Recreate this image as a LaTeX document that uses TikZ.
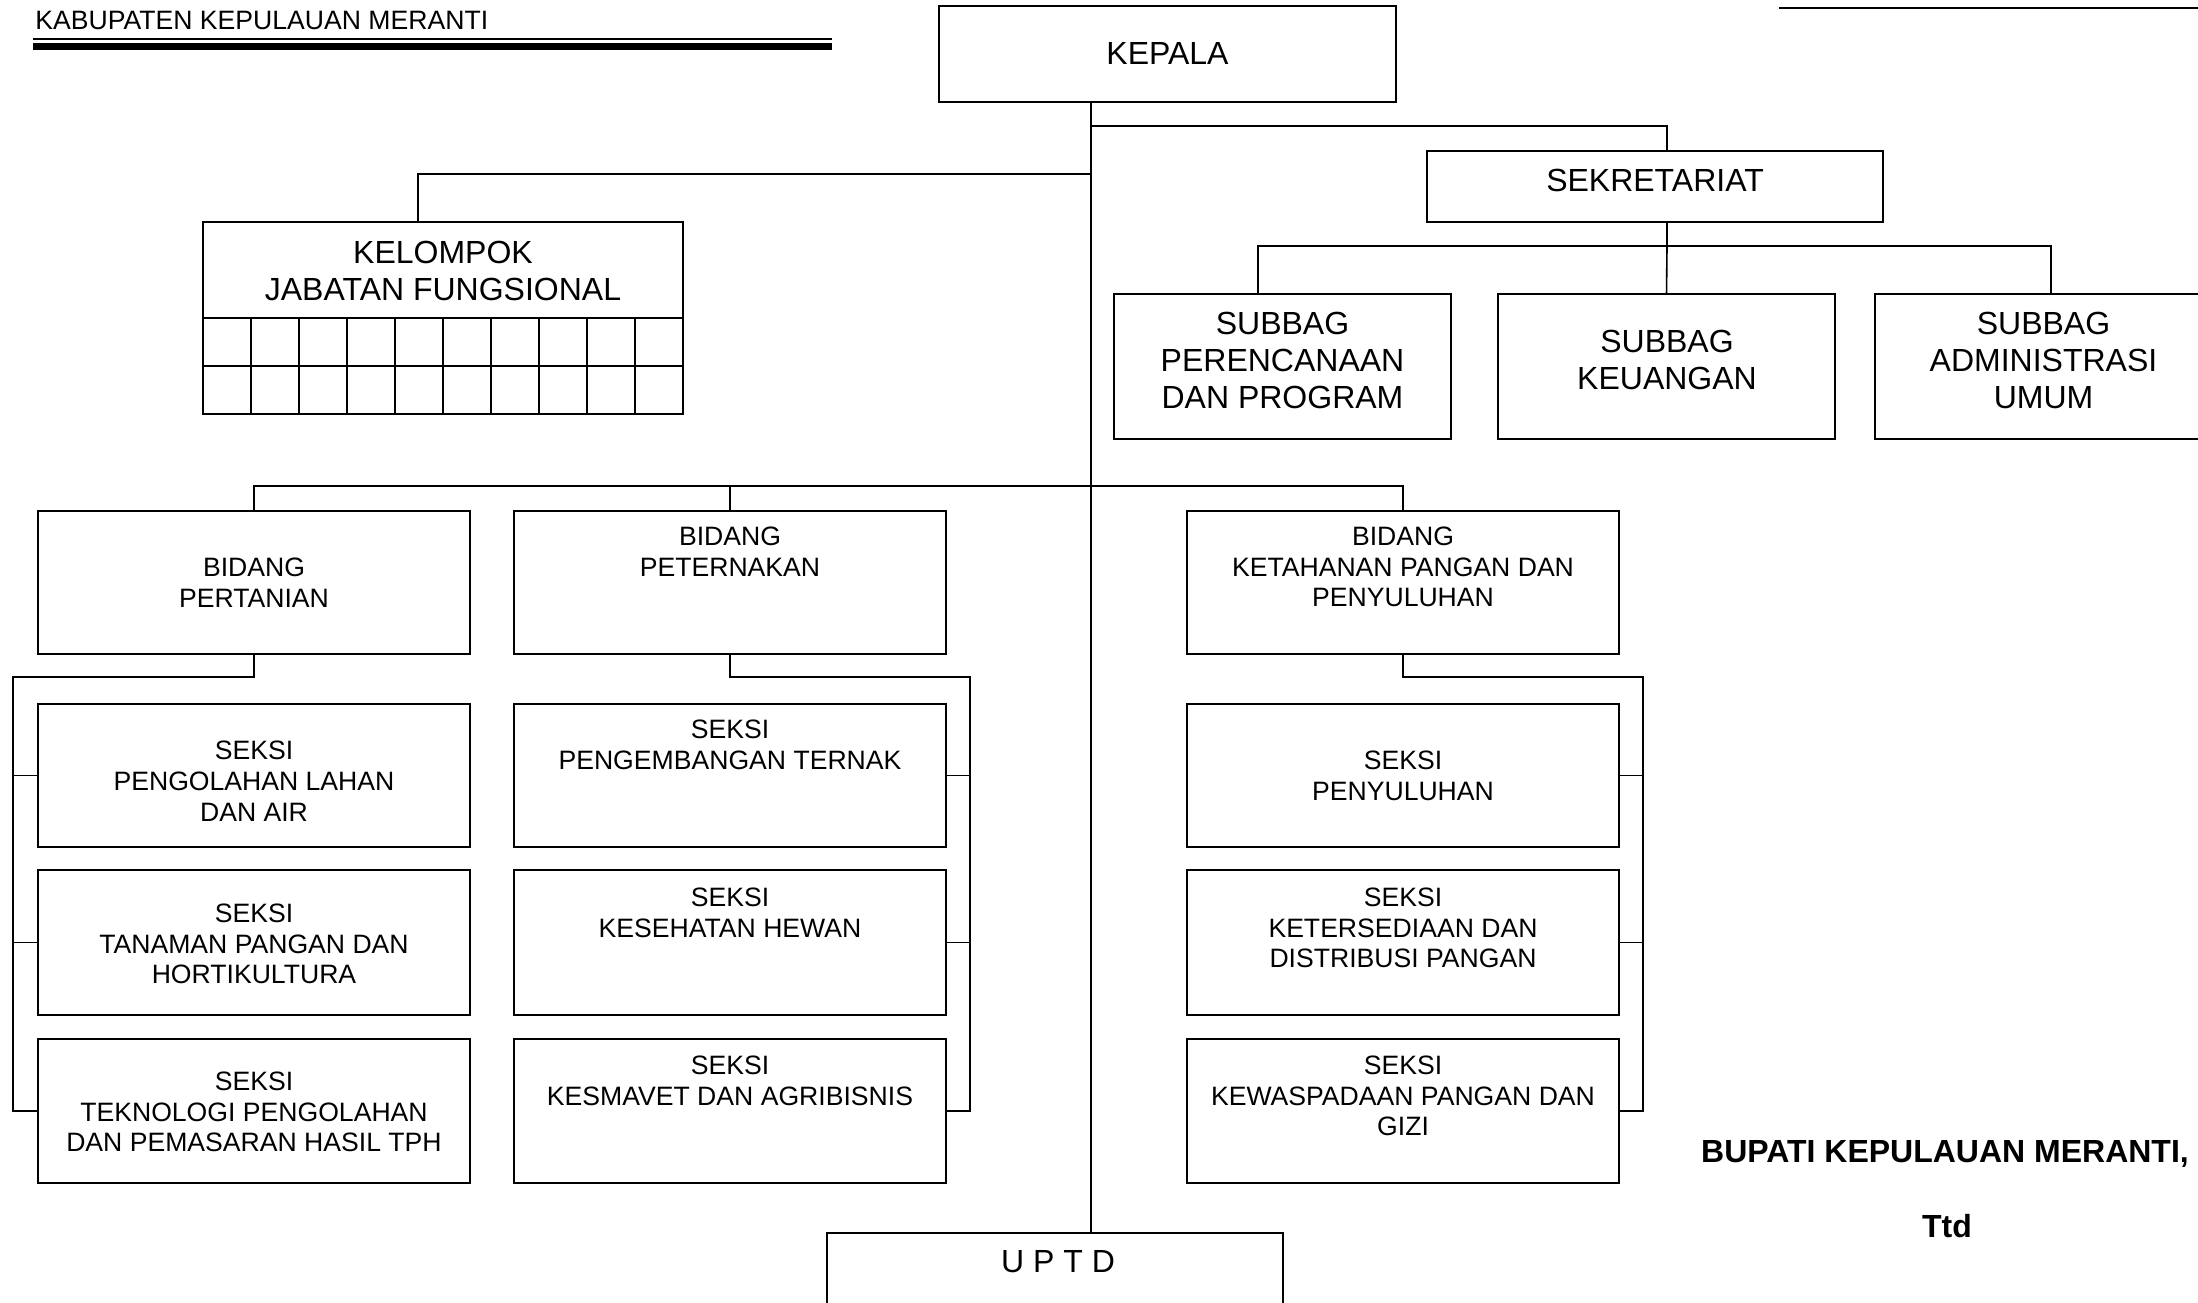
\documentclass[tikz,border=0pt]{standalone}
\usepackage{fontspec}
\setmainfont{Liberation Sans}
\usetikzlibrary{fit,calc}
\begin{document}
\begin{tikzpicture}[x=0.5pt,y=-0.5pt,
  orgbox/.style={draw, line width=0.8pt, inner sep=0pt, outer sep=0pt, rectangle},
  conn/.style={line width=0.8pt},
  bigt/.style={font=\fontsize{16}{18.5}\selectfont, align=center, inner sep=0pt},
  smallt/.style={font=\fontsize{13.3}{15.4}\selectfont, align=center, inner sep=0pt},
  boldt/.style={font=\fontsize{16}{18.5}\selectfont\bfseries, inner sep=0pt}]

\useasboundingbox (0,0) rectangle (2198,1302);
\clip (0,0) rectangle (2198,1302);

% header
\node[anchor=west, font=\fontsize{13.3}{15.4}\selectfont, inner sep=0pt] (hdr) at (35,20) {KABUPATEN KEPULAUAN MERANTI};
\draw[line width=1pt] (33,39) -- (832,39);
\draw[line width=3.6pt] (33,46.5) -- (832,46.5);
\draw[line width=1.2pt] (1779,8) -- (2198,8);

% boxes
\node[orgbox, fit={(939,6) (1396,102)}] (kepala) {};
\node[orgbox, fit={(1427,151) (1883,222)}] (sek) {};
\node[orgbox, fit={(203,222) (683,414)}] (kel) {};
\node[orgbox, fit={(1114,294) (1451,439)}] (spb) {};
\node[orgbox, fit={(1498,294) (1835,439)}] (skb) {};
\node[orgbox, fit={(1875,294) (2212,439)}] (sab) {};
\node[orgbox, fit={(38,511) (470,654)}] (bp) {};
\node[orgbox, fit={(514,511) (946,654)}] (bpt) {};
\node[orgbox, fit={(1187,511) (1619,654)}] (bk) {};
\node[orgbox, fit={(38,704) (470,847)}] (ls1) {};
\node[orgbox, fit={(38,870) (470,1015)}] (ls2) {};
\node[orgbox, fit={(38,1039) (470,1183)}] (ls3) {};
\node[orgbox, fit={(514,704) (946,847)}] (ms1) {};
\node[orgbox, fit={(514,870) (946,1015)}] (ms2) {};
\node[orgbox, fit={(514,1039) (946,1183)}] (ms3) {};
\node[orgbox, fit={(1187,704) (1619,847)}] (rs1) {};
\node[orgbox, fit={(1187,870) (1619,1015)}] (rs2) {};
\node[orgbox, fit={(1187,1039) (1619,1183)}] (rs3) {};
\node[orgbox, fit={(827,1233) (1283,1340)}] (uptd) {};

% kelompok grid
\draw[conn] (203,318) -- (683,318);
\draw[conn] (203,366) -- (683,366);
\foreach \i in {1,...,9} \draw[conn] ({203+48*\i},318) -- ({203+48*\i},414);

% texts
\node[bigt] (kepala-t) at (1167.5,53) {KEPALA};
\node[bigt] (sek-t) at (1655,180) {SEKRETARIAT};
\node[bigt] (kel-t) at (443,270.5) {KELOMPOK\\JABATAN FUNGSIONAL};
\node[bigt] (sp-t) at (1282.5,360) {SUBBAG\\PERENCANAAN\\DAN PROGRAM};
\node[bigt] (sk-t) at (1667,360) {SUBBAG\\KEUANGAN};
\node[bigt] (sa-t) at (2043.5,360) {SUBBAG\\ADMINISTRASI\\UMUM};
\node[smallt] (bp-t) at (254,583) {BIDANG\\PERTANIAN};
\node[smallt] (bpt-t) at (730,552) {BIDANG\\PETERNAKAN};
\node[smallt] (bk-t) at (1403,567) {BIDANG\\KETAHANAN PANGAN DAN\\PENYULUHAN};
\node[smallt] (ls1-t) at (254,781) {SEKSI\\PENGOLAHAN LAHAN\\DAN AIR};
\node[smallt] (ls2-t) at (254,944) {SEKSI\\TANAMAN PANGAN DAN\\HORTIKULTURA};
\node[smallt] (ls3-t) at (254,1112) {SEKSI\\TEKNOLOGI PENGOLAHAN\\DAN PEMASARAN HASIL TPH};
\node[smallt] (ms1-t) at (730,745) {SEKSI\\PENGEMBANGAN TERNAK};
\node[smallt] (ms2-t) at (730,913) {SEKSI\\KESEHATAN HEWAN};
\node[smallt] (ms3-t) at (730,1081) {SEKSI\\KESMAVET DAN AGRIBISNIS};
\node[smallt] (rs1-t) at (1403,775.5) {SEKSI\\PENYULUHAN};
\node[smallt] (rs2-t) at (1403,928) {SEKSI\\KETERSEDIAAN DAN\\DISTRIBUSI PANGAN};
\node[smallt] (rs3-t) at (1403,1096) {SEKSI\\KEWASPADAAN PANGAN DAN\\GIZI};
\node[bigt] (uptd-t) at (1058,1262) {U P T D};
\node[boldt] (bupati-t) at (1945,1154) {BUPATI KEPULAUAN MERANTI,};
\node[boldt] (ttd-t) at (1947,1226) {Ttd};

% connector columns / rows
\coordinate (tr) at (1091,0);
\coordinate (sx) at (1667,0);
\coordinate (kx) at (418,0);
\coordinate (spx) at (1258,0);
\coordinate (sax) at (2051,0);
\coordinate (lx) at (13,0);
\coordinate (mx) at (970,0);
\coordinate (rx) at (1643,0);
\coordinate (r1) at (0,126);
\coordinate (r2) at (0,174);
\coordinate (r3) at (0,246);
\coordinate (r4) at (0,486);
\coordinate (r5) at (0,677);

% connectors
\draw[conn] (kepala.south -| tr) -- (uptd.north -| tr);
\draw[conn] (tr |- r1) -| (sek.north -| sx);
\draw[conn] (tr |- r2) -| (kel.north -| kx);
\draw[conn] (sek.south -| sx) -- (sx |- r3);
\draw[conn] (spb.north -| spx) |- (sx |- r3) -| (sab.north -| sax);
\draw[conn] (sx |- r3) -- (skb.north);
\draw[conn] (bp.north) |- (bk.north |- r4) -- (bk.north);
\draw[conn] (bpt.north) -- (bpt.north |- r4);

\draw[conn] (bp.south) |- (lx |- r5) |- (ls3.west);
\draw[conn] (lx |- ls1.west) -- (ls1.west);
\draw[conn] (lx |- ls2.west) -- (ls2.west);

\draw[conn] (bpt.south) |- (mx |- r5) |- (ms3.east);
\draw[conn] (ms1.east) -- (mx |- ms1.east);
\draw[conn] (ms2.east) -- (mx |- ms2.east);

\draw[conn] (bk.south) |- (rx |- r5) |- (rs3.east);
\draw[conn] (rs1.east) -- (rx |- rs1.east);
\draw[conn] (rs2.east) -- (rx |- rs2.east);
\end{tikzpicture}
\end{document}
